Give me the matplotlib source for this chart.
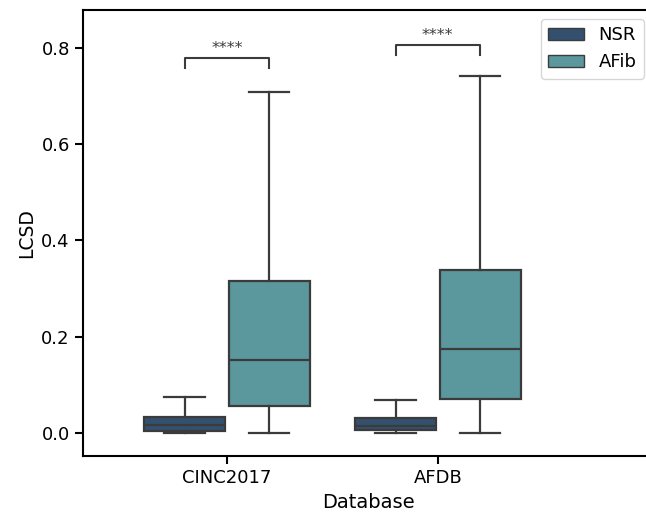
import numpy as np
import matplotlib.pyplot as plt
from matplotlib.patches import Patch

# categories and hue groups
databases = ['CINC2017', 'AFDB']
groups = ['NSR', 'AFib']
colors = ['#34506f', '#5a989d']

# box statistics: [whislo, q1, med, q3, whishi]
nsr_stats = [[0.0, 0.004, 0.017, 0.034, 0.075],
             [0.0, 0.006, 0.014, 0.031, 0.068]]
afib_stats = [[0.0, 0.055, 0.152, 0.316, 0.709],
              [0.0, 0.071, 0.174, 0.339, 0.741]]

# significance brackets (bracket top, leg length) and labels
bracket_y = [0.779, 0.806]
bracket_h = 0.021
sig_labels = ['****', '****']

fig = plt.figure(figsize=(6.46, 5.12), dpi=100)
ax = fig.add_axes([83 / 646, 56 / 512, 570 / 646, 446 / 512])

edge = '#3b3b3b'
width = 0.4
for gi, (stats, col) in enumerate(zip([nsr_stats, afib_stats], colors)):
    bxp = []
    for s in stats:
        bxp.append(dict(whislo=s[0], q1=s[1], med=s[2], q3=s[3], whishi=s[4], fliers=[]))
    pos = np.arange(len(databases)) + (gi - 0.5) * width
    ax.bxp(bxp, positions=pos, widths=width * 0.96, patch_artist=True, showfliers=False,
           boxprops=dict(facecolor=col, edgecolor=edge, linewidth=1.6),
           medianprops=dict(color=edge, linewidth=1.6),
           whiskerprops=dict(color=edge, linewidth=1.6),
           capprops=dict(color=edge, linewidth=1.6),
           capwidths=width * 0.48)

# brackets
for i, (y, lab) in enumerate(zip(bracket_y, sig_labels)):
    x1, x2 = i - 0.2, i + 0.2
    ax.plot([x1, x1, x2, x2], [y - bracket_h, y, y, y - bracket_h], color=edge, lw=1.5)
    ax.text(i, y + 0.004, lab, ha='center', va='bottom', fontsize=11.5, color=edge)

ax.set_xlim(-0.682, 2.02)
ax.set_ylim(-0.048, 0.879)
ax.set_xticks(range(len(databases)))
ax.set_xticklabels(databases)
ax.set_yticks([0.0, 0.2, 0.4, 0.6, 0.8])
ax.set_xlabel('Database', fontsize=14)
ax.set_ylabel('LCSD', fontsize=13.5)
ax.tick_params(labelsize=13, length=6, width=1.5)
for sp in ax.spines.values():
    sp.set_linewidth(1.5)

handles = [Patch(facecolor=c, edgecolor=edge, label=g) for c, g in zip(colors, groups)]
ax.legend(handles=handles, loc='upper right', fontsize=13)

plt.savefig('out.png', dpi=100)
